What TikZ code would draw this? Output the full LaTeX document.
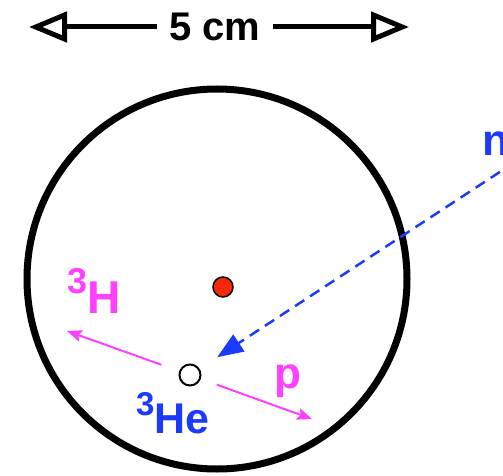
\documentclass[tikz,border=0pt]{standalone}
\usepackage{fontspec}
\setmainfont{Liberation Sans}
\usetikzlibrary{arrows.meta}
\definecolor{nblue}{RGB}{28,58,250}
\definecolor{pmag}{RGB}{255,64,255}
\definecolor{dotred}{RGB}{250,40,10}
\tikzset{
  lbl/.style={inner sep=0pt, anchor=base west, font=\bfseries},
  dimarrow/.style={line width=5pt, -{Triangle[open, length=38pt, width=30pt, fill=white]}},
  parrow/.style={pmag, line width=2pt, -{Stealth[length=15pt, width=12pt, inset=3pt]}},
  narrow/.style={nblue, line width=2.5pt, dash pattern=on 11pt off 7pt, -{Triangle[length=26pt, width=20pt]}},
}
\begin{document}
\begin{tikzpicture}[x=1pt, y=-1pt]
\useasboundingbox (0,0) rectangle (503,476);
\begin{scope}
\clip (0,0) rectangle (503,476);
% big circle
\node[circle, draw, line width=7pt, minimum size=380pt, inner sep=0pt] (ring) at (217,279) {};
% dimension
\node[inner xsep=12pt, inner ysep=0pt, font=\bfseries\fontsize{40}{40}\selectfont] (dim) at (215,27) {5 cm};
\coordinate (dl) at (29,27);
\coordinate (dr) at (409,27);
\draw[dimarrow] (dim.west) -- (dl);
\draw[dimarrow] (dim.east) -- (dr);
% dots
\node[circle, draw, fill=dotred, line width=1.5pt, minimum size=20pt, inner sep=0pt] (red) at (223,287) {};
\node[circle, draw, fill=white, line width=2pt, minimum size=21pt, inner sep=0pt] (he) at (190,375) {};
% arrows
\coordinate (tl) at (67,331);
\coordinate (tr) at (312,419);
\draw[parrow, shorten <=19pt] (he) -- (tl);
\draw[parrow, shorten <=17pt] (he) -- (tr);
\coordinate (ns) at (515,162);
\draw[narrow, shorten >=21pt] (ns) -- (he);
% labels
\node[lbl, text=pmag, font=\bfseries\fontsize{46}{46}\selectfont] (h3) at (67,313) {\raisebox{20pt}{\fontsize{36}{36}\selectfont 3}H};
\node[lbl, text=nblue, font=\bfseries\fontsize{43}{43}\selectfont] (he3) at (136,433) {\raisebox{18pt}{\fontsize{33}{33}\selectfont 3}He};
\node[lbl, text=pmag, font=\bfseries\fontsize{44}{44}\selectfont] (p) at (274,388) {p};
\node[lbl, text=nblue, font=\bfseries\fontsize{44}{44}\selectfont] (n) at (482,155) {n};
\end{scope}
\end{tikzpicture}
\end{document}
